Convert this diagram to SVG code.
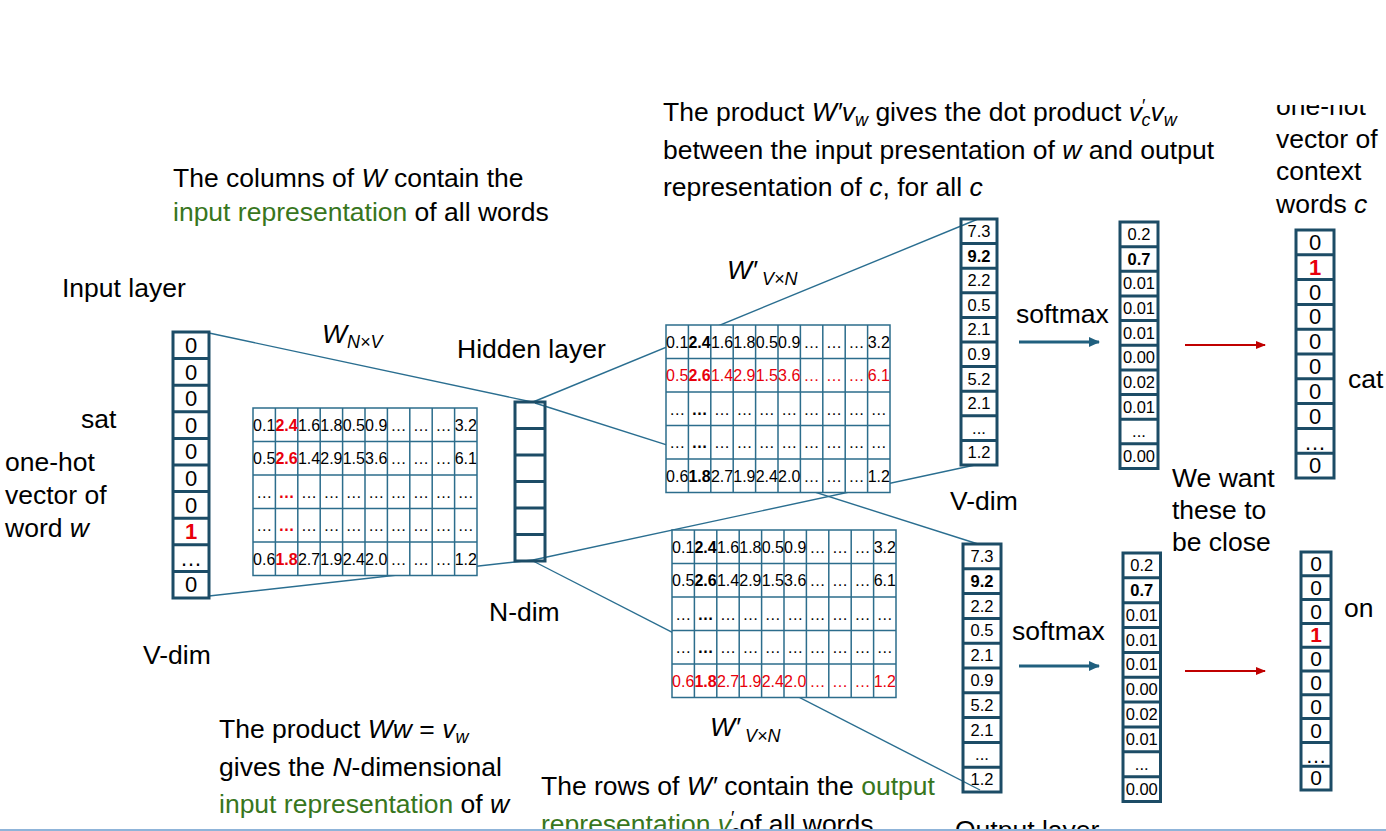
<svg xmlns="http://www.w3.org/2000/svg" width="1386" height="831" viewBox="0 0 1386 831">
<style>
text{font-family:"Liberation Sans",Arial,Helvetica,sans-serif;fill:#000}
.t{font-size:26.5px}
.i{font-style:italic}
.g{fill:#38761d}
.sub{font-size:18px}
.m{font-size:16px;text-anchor:middle}
.b{font-weight:bold}
.r{fill:#e8000b}
.vec{fill:none;stroke:#1c4c66;stroke-width:3}
.grid{fill:#fff;stroke:#2c6d8c;stroke-width:1.5}
.con{stroke:#2a6e90;stroke-width:1.4;fill:none}
.v16{font-size:16.5px;text-anchor:middle}
.v21{font-size:22px;text-anchor:middle}
.v20{font-size:21px;text-anchor:middle}
.arrB{stroke:#20607f;stroke-width:3;fill:none}
.arrR{stroke:#c00000;stroke-width:2;fill:none}
</style>
<defs>
<marker id="mB" markerUnits="userSpaceOnUse" markerWidth="11" markerHeight="10" refX="10" refY="5" orient="auto"><path d="M0 0L11 5L0 10Z" fill="#20607f"/></marker>
<marker id="mR" markerUnits="userSpaceOnUse" markerWidth="10" markerHeight="8" refX="9" refY="4" orient="auto"><path d="M0 0L10 4L0 8Z" fill="#c00000"/></marker>
<path id="gridp" d="M0 0H224V167.5H0Z M22.4 0V167.5 M44.8 0V167.5 M67.2 0V167.5 M89.6 0V167.5 M112 0V167.5 M134.4 0V167.5 M156.8 0V167.5 M179.2 0V167.5 M201.6 0V167.5 M0 33.5H224 M0 67H224 M0 100.5H224 M0 134H224"/>
<clipPath id="clipB"><rect x="0" y="0" width="1386" height="829"/></clipPath>
<clipPath id="clipT"><rect x="0" y="105" width="1386" height="726"/></clipPath>
</defs>
<rect width="1386" height="831" fill="#fff"/>

<g id="connectors">
<line class="con" x1="209" y1="333" x2="532" y2="402"/>
<line class="con" x1="209" y1="596" x2="533" y2="560"/>
<line class="con" x1="533" y1="402" x2="978" y2="219"/>
<line class="con" x1="535" y1="403" x2="978" y2="544"/>
<line class="con" x1="533" y1="560" x2="975" y2="465"/>
<line class="con" x1="533" y1="561" x2="980" y2="790"/>
<line class="arrB" x1="1019" y1="342" x2="1099" y2="342" marker-end="url(#mB)"/>
<line class="arrB" x1="1019" y1="666" x2="1099" y2="666" marker-end="url(#mB)"/>
<line class="arrR" x1="1185" y1="345" x2="1265" y2="345" marker-end="url(#mR)"/>
<line class="arrR" x1="1185" y1="671" x2="1265" y2="671" marker-end="url(#mR)"/>
</g>

<g id="matrix-W" transform="translate(253,408)">
<use href="#gridp" class="grid"/>
<text class="m" y="22.5"><tspan x="11.2">0.1</tspan><tspan x="33.6" class="b r">2.4</tspan><tspan x="56">1.6</tspan><tspan x="78.4">1.8</tspan><tspan x="100.8">0.5</tspan><tspan x="123.2">0.9</tspan><tspan x="145.6">…</tspan><tspan x="168">…</tspan><tspan x="190.4">…</tspan><tspan x="212.8">3.2</tspan></text>
<text class="m" y="56"><tspan x="11.2">0.5</tspan><tspan x="33.6" class="b r">2.6</tspan><tspan x="56">1.4</tspan><tspan x="78.4">2.9</tspan><tspan x="100.8">1.5</tspan><tspan x="123.2">3.6</tspan><tspan x="145.6">…</tspan><tspan x="168">…</tspan><tspan x="190.4">…</tspan><tspan x="212.8">6.1</tspan></text>
<text class="m" y="89.5"><tspan x="11.2">…</tspan><tspan x="33.6" class="b r">…</tspan><tspan x="56">…</tspan><tspan x="78.4">…</tspan><tspan x="100.8">…</tspan><tspan x="123.2">…</tspan><tspan x="145.6">…</tspan><tspan x="168">…</tspan><tspan x="190.4">…</tspan><tspan x="212.8">…</tspan></text>
<text class="m" y="123"><tspan x="11.2">…</tspan><tspan x="33.6" class="b r">…</tspan><tspan x="56">…</tspan><tspan x="78.4">…</tspan><tspan x="100.8">…</tspan><tspan x="123.2">…</tspan><tspan x="145.6">…</tspan><tspan x="168">…</tspan><tspan x="190.4">…</tspan><tspan x="212.8">…</tspan></text>
<text class="m" y="156.5"><tspan x="11.2">0.6</tspan><tspan x="33.6" class="b r">1.8</tspan><tspan x="56">2.7</tspan><tspan x="78.4">1.9</tspan><tspan x="100.8">2.4</tspan><tspan x="123.2">2.0</tspan><tspan x="145.6">…</tspan><tspan x="168">…</tspan><tspan x="190.4">…</tspan><tspan x="212.8">1.2</tspan></text>
</g>

<g id="matrix-Wp-top" transform="translate(666,325)">
<use href="#gridp" class="grid"/>
<text class="m" y="22.5"><tspan x="11.2">0.1</tspan><tspan x="33.6" class="b">2.4</tspan><tspan x="56">1.6</tspan><tspan x="78.4">1.8</tspan><tspan x="100.8">0.5</tspan><tspan x="123.2">0.9</tspan><tspan x="145.6">…</tspan><tspan x="168">…</tspan><tspan x="190.4">…</tspan><tspan x="212.8">3.2</tspan></text>
<text class="m r" y="56"><tspan x="11.2">0.5</tspan><tspan x="33.6" class="b">2.6</tspan><tspan x="56">1.4</tspan><tspan x="78.4">2.9</tspan><tspan x="100.8">1.5</tspan><tspan x="123.2">3.6</tspan><tspan x="145.6">…</tspan><tspan x="168">…</tspan><tspan x="190.4">…</tspan><tspan x="212.8">6.1</tspan></text>
<text class="m" y="89.5"><tspan x="11.2">…</tspan><tspan x="33.6" class="b">…</tspan><tspan x="56">…</tspan><tspan x="78.4">…</tspan><tspan x="100.8">…</tspan><tspan x="123.2">…</tspan><tspan x="145.6">…</tspan><tspan x="168">…</tspan><tspan x="190.4">…</tspan><tspan x="212.8">…</tspan></text>
<text class="m" y="123"><tspan x="11.2">…</tspan><tspan x="33.6" class="b">…</tspan><tspan x="56">…</tspan><tspan x="78.4">…</tspan><tspan x="100.8">…</tspan><tspan x="123.2">…</tspan><tspan x="145.6">…</tspan><tspan x="168">…</tspan><tspan x="190.4">…</tspan><tspan x="212.8">…</tspan></text>
<text class="m" y="156.5"><tspan x="11.2">0.6</tspan><tspan x="33.6" class="b">1.8</tspan><tspan x="56">2.7</tspan><tspan x="78.4">1.9</tspan><tspan x="100.8">2.4</tspan><tspan x="123.2">2.0</tspan><tspan x="145.6">…</tspan><tspan x="168">…</tspan><tspan x="190.4">…</tspan><tspan x="212.8">1.2</tspan></text>
</g>

<g id="matrix-Wp-bottom" transform="translate(672,530)">
<use href="#gridp" class="grid"/>
<text class="m" y="22.5"><tspan x="11.2">0.1</tspan><tspan x="33.6" class="b">2.4</tspan><tspan x="56">1.6</tspan><tspan x="78.4">1.8</tspan><tspan x="100.8">0.5</tspan><tspan x="123.2">0.9</tspan><tspan x="145.6">…</tspan><tspan x="168">…</tspan><tspan x="190.4">…</tspan><tspan x="212.8">3.2</tspan></text>
<text class="m" y="56"><tspan x="11.2">0.5</tspan><tspan x="33.6" class="b">2.6</tspan><tspan x="56">1.4</tspan><tspan x="78.4">2.9</tspan><tspan x="100.8">1.5</tspan><tspan x="123.2">3.6</tspan><tspan x="145.6">…</tspan><tspan x="168">…</tspan><tspan x="190.4">…</tspan><tspan x="212.8">6.1</tspan></text>
<text class="m" y="89.5"><tspan x="11.2">…</tspan><tspan x="33.6" class="b">…</tspan><tspan x="56">…</tspan><tspan x="78.4">…</tspan><tspan x="100.8">…</tspan><tspan x="123.2">…</tspan><tspan x="145.6">…</tspan><tspan x="168">…</tspan><tspan x="190.4">…</tspan><tspan x="212.8">…</tspan></text>
<text class="m" y="123"><tspan x="11.2">…</tspan><tspan x="33.6" class="b">…</tspan><tspan x="56">…</tspan><tspan x="78.4">…</tspan><tspan x="100.8">…</tspan><tspan x="123.2">…</tspan><tspan x="145.6">…</tspan><tspan x="168">…</tspan><tspan x="190.4">…</tspan><tspan x="212.8">…</tspan></text>
<text class="m r" y="156.5"><tspan x="11.2">0.6</tspan><tspan x="33.6" class="b">1.8</tspan><tspan x="56">2.7</tspan><tspan x="78.4">1.9</tspan><tspan x="100.8">2.4</tspan><tspan x="123.2">2.0</tspan><tspan x="145.6">…</tspan><tspan x="168">…</tspan><tspan x="190.4">…</tspan><tspan x="212.8">1.2</tspan></text>
</g>

<g id="input-vector">
<rect class="vec" x="173" y="332" width="36" height="266"/>
<path class="vec" d="M173 358.6H209M173 385.2H209M173 411.8H209M173 438.4H209M173 465H209M173 491.6H209M173 518.2H209M173 544.8H209M173 571.4H209"/>
<text class="v21" x="191" y="353">0</text>
<text class="v21" x="191" y="379.6">0</text>
<text class="v21" x="191" y="406.2">0</text>
<text class="v21" x="191" y="432.8">0</text>
<text class="v21" x="191" y="459.4">0</text>
<text class="v21" x="191" y="486">0</text>
<text class="v21" x="191" y="512.6">0</text>
<text class="v21 b r" x="191" y="539.2">1</text>
<text class="v21" x="191" y="566">…</text>
<text class="v21" x="191" y="592.4">0</text>
</g>

<g id="hidden-layer">
<rect class="vec" x="515" y="402" width="30" height="159"/>
<path class="vec" d="M515 428.5H545M515 455H545M515 481.5H545M515 508H545M515 534.5H545"/>
</g>

<g id="scores-top">
<rect class="vec" x="961" y="219" width="36" height="246"/>
<path class="vec" d="M961 243.6H997M961 268.2H997M961 292.8H997M961 317.4H997M961 342H997M961 366.6H997M961 391.2H997M961 415.8H997M961 440.4H997"/>
<text class="v16" x="979" y="237">7.3</text>
<text class="v16 b" x="979" y="261.6">9.2</text>
<text class="v16" x="979" y="286.2">2.2</text>
<text class="v16" x="979" y="310.8">0.5</text>
<text class="v16" x="979" y="335.4">2.1</text>
<text class="v16" x="979" y="360">0.9</text>
<text class="v16" x="979" y="384.6">5.2</text>
<text class="v16" x="979" y="409.2">2.1</text>
<text class="v16" x="979" y="434">...</text>
<text class="v16" x="979" y="458.4">1.2</text>
</g>

<g id="softmax-top">
<rect class="vec" x="1120" y="222" width="38" height="246.5"/>
<path class="vec" d="M1120 246.65H1158M1120 271.3H1158M1120 295.95H1158M1120 320.6H1158M1120 345.25H1158M1120 369.9H1158M1120 394.55H1158M1120 419.2H1158M1120 443.85H1158"/>
<text class="v16" x="1139" y="240">0.2</text>
<text class="v16 b" x="1139" y="264.6">0.7</text>
<text class="v16" x="1139" y="289.3">0.01</text>
<text class="v16" x="1139" y="313.9">0.01</text>
<text class="v16" x="1139" y="338.6">0.01</text>
<text class="v16" x="1139" y="363.2">0.00</text>
<text class="v16" x="1139" y="387.9">0.02</text>
<text class="v16" x="1139" y="412.5">0.01</text>
<text class="v16" x="1139" y="437">...</text>
<text class="v16" x="1139" y="461.8">0.00</text>
</g>

<g id="scores-bottom">
<rect class="vec" x="963" y="544" width="38" height="248"/>
<path class="vec" d="M963 568.8H1001M963 593.6H1001M963 618.4H1001M963 643.2H1001M963 668H1001M963 692.8H1001M963 717.6H1001M963 742.4H1001M963 767.2H1001"/>
<text class="v16" x="982" y="562">7.3</text>
<text class="v16 b" x="982" y="586.8">9.2</text>
<text class="v16" x="982" y="611.6">2.2</text>
<text class="v16" x="982" y="636.4">0.5</text>
<text class="v16" x="982" y="661.2">2.1</text>
<text class="v16" x="982" y="686">0.9</text>
<text class="v16" x="982" y="710.8">5.2</text>
<text class="v16" x="982" y="735.6">2.1</text>
<text class="v16" x="982" y="760.3">...</text>
<text class="v16" x="982" y="785.2">1.2</text>
</g>

<g id="softmax-bottom">
<rect class="vec" x="1123" y="553" width="37.5" height="248.5"/>
<path class="vec" d="M1123 577.85H1160.5M1123 602.7H1160.5M1123 627.55H1160.5M1123 652.4H1160.5M1123 677.25H1160.5M1123 702.1H1160.5M1123 726.95H1160.5M1123 751.8H1160.5M1123 776.65H1160.5"/>
<text class="v16" x="1141.75" y="571">0.2</text>
<text class="v16 b" x="1141.75" y="595.9">0.7</text>
<text class="v16" x="1141.75" y="620.7">0.01</text>
<text class="v16" x="1141.75" y="645.6">0.01</text>
<text class="v16" x="1141.75" y="670.4">0.01</text>
<text class="v16" x="1141.75" y="695.3">0.00</text>
<text class="v16" x="1141.75" y="720.1">0.02</text>
<text class="v16" x="1141.75" y="745">0.01</text>
<text class="v16" x="1141.75" y="769.7">...</text>
<text class="v16" x="1141.75" y="794.7">0.00</text>
</g>

<g id="onehot-cat">
<rect class="vec" x="1296" y="230" width="38" height="248"/>
<path class="vec" d="M1296 254.8H1334M1296 279.6H1334M1296 304.4H1334M1296 329.2H1334M1296 354H1334M1296 378.8H1334M1296 403.6H1334M1296 428.4H1334M1296 453.2H1334"/>
<text class="v21" x="1315" y="250">0</text>
<text class="v21 b r" x="1315" y="274.8">1</text>
<text class="v21" x="1315" y="299.6">0</text>
<text class="v21" x="1315" y="324.4">0</text>
<text class="v21" x="1315" y="349.2">0</text>
<text class="v21" x="1315" y="374">0</text>
<text class="v21" x="1315" y="398.8">0</text>
<text class="v21" x="1315" y="423.6">0</text>
<text class="v21" x="1315" y="450">…</text>
<text class="v21" x="1315" y="473.2">0</text>
</g>

<g id="onehot-on">
<rect class="vec" x="1301" y="552" width="30" height="238"/>
<path class="vec" d="M1301 575.8H1331M1301 599.6H1331M1301 623.4H1331M1301 647.2H1331M1301 671H1331M1301 694.8H1331M1301 718.6H1331M1301 742.4H1331M1301 766.2H1331"/>
<text class="v20" x="1316" y="571">0</text>
<text class="v20" x="1316" y="594.8">0</text>
<text class="v20" x="1316" y="618.6">0</text>
<text class="v20 b r" x="1316" y="642.4">1</text>
<text class="v20" x="1316" y="666.2">0</text>
<text class="v20" x="1316" y="690">0</text>
<text class="v20" x="1316" y="713.8">0</text>
<text class="v20" x="1316" y="737.6">0</text>
<text class="v20" x="1316" y="763">…</text>
<text class="v20" x="1316" y="785.2">0</text>
</g>

<g id="labels">
<text class="t" x="663" y="121">The product <tspan class="i">W′v</tspan><tspan class="sub i" dy="5">w</tspan><tspan dy="-5"> gives the dot product </tspan><tspan class="i">v</tspan><tspan class="sub" dy="-9">′</tspan><tspan class="sub i" dx="-4" dy="14">c</tspan><tspan class="i" dy="-5">v</tspan><tspan class="sub i" dy="5">w</tspan></text>
<text class="t" x="663" y="159">between the input presentation of <tspan class="i">w</tspan> and output</text>
<text class="t" x="663" y="196">representation of <tspan class="i">c</tspan>, for all <tspan class="i">c</tspan></text>

<text class="t" x="173" y="187">The columns of <tspan class="i">W</tspan> contain the</text>
<text class="t" x="173" y="221"><tspan class="g">input representation</tspan> of all words</text>

<text class="t" x="62" y="297">Input layer</text>
<text class="t" x="81" y="428">sat</text>
<text class="t" x="5" y="471">one-hot</text>
<text class="t" x="5" y="504">vector of</text>
<text class="t" x="5" y="537">word <tspan class="i">w</tspan></text>
<text class="t" x="143" y="664">V-dim</text>

<text class="t i" x="322" y="343">W<tspan class="sub" font-size="19" dy="5">N×V</tspan></text>
<text class="t" x="457" y="358">Hidden layer</text>
<text class="t" x="489" y="621">N-dim</text>

<text class="t i" x="727" y="279">W′<tspan class="sub" font-size="19" dy="6"> V×N</tspan></text>
<text class="t i" x="710" y="736">W′<tspan class="sub" font-size="19" dy="6"> V×N</tspan></text>

<text class="t" x="1016" y="323">softmax</text>
<text class="t" x="1012" y="640">softmax</text>
<text class="t" x="950" y="510">V-dim</text>

<text class="t" x="1276" y="115" clip-path="url(#clipT)">one-hot</text>
<text class="t" x="1276" y="148">vector of</text>
<text class="t" x="1276" y="180">context</text>
<text class="t" x="1276" y="213">words <tspan class="i">c</tspan></text>
<text class="t" x="1348" y="388">cat</text>
<text class="t" x="1344" y="617">on</text>

<text class="t" x="1172" y="487">We want</text>
<text class="t" x="1172" y="519">these to</text>
<text class="t" x="1172" y="551">be close</text>

<text class="t" x="219" y="738">The product <tspan class="i">Ww</tspan> = <tspan class="i">v</tspan><tspan class="sub i" dy="5">w</tspan></text>
<text class="t" x="219" y="776">gives the <tspan class="i">N</tspan>-dimensional</text>
<text class="t" x="219" y="813"><tspan class="g">input representation</tspan> of <tspan class="i">w</tspan></text>

<text class="t" x="541" y="795">The rows of <tspan class="i">W′</tspan> contain the <tspan class="g">output</tspan></text>
<g clip-path="url(#clipB)">
<text class="t" x="541" y="833"><tspan class="g">representation </tspan><tspan class="g i">v</tspan><tspan class="sub" dy="-9">′</tspan><tspan class="sub i" dx="-4" dy="14">c</tspan><tspan dy="-5">of all words</tspan></text>
<text class="t" x="955" y="839">Output layer</text>
</g>
</g>
<rect x="0" y="829" width="1386" height="2" fill="#8fb4d9"/>
</svg>
